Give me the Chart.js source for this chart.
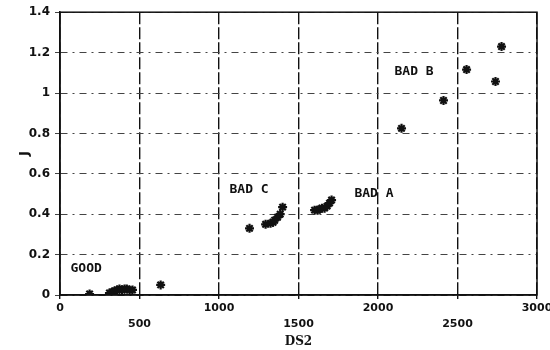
<!DOCTYPE html>
<html>
<head>
<meta charset="utf-8">
<script src="https://cdn.jsdelivr.net/npm/chart.js@4"></script>
<style>
  body { margin: 0; background: #fff; }
  canvas { display: block; }
</style>
</head>
<body>
<canvas id="chart" width="550" height="350"></canvas>
<script>
// Group GOOD
const goodDs2 = [186, 311, 330, 343, 360, 374, 390, 406, 420, 437, 456, 633];
const goodJ = [0.005, 0.01, 0.015, 0.02, 0.025, 0.03, 0.025, 0.03, 0.03, 0.025, 0.025, 0.05];

// Group BAD C
const badCDs2 = [1192, 1293, 1324, 1340, 1350, 1368, 1385, 1400];
const badCJ = [0.33, 0.35, 0.355, 0.36, 0.37, 0.385, 0.4, 0.435];

// Group BAD A
const badADs2 = [1601, 1620, 1632, 1648, 1664, 1680, 1695, 1708];
const badAJ = [0.42, 0.42, 0.425, 0.43, 0.43, 0.44, 0.455, 0.47];

// Group BAD B
const badBDs2 = [2148, 2412, 2557, 2739, 2777];
const badBJ = [0.825, 0.963, 1.116, 1.057, 1.23];

// Text labels written on the plot (data coordinates of their left edge)
const groupNames = ["GOOD", "BAD C", "BAD A", "BAD B"];
const groupNameDs2 = [66, 1066, 1852, 2104];
const groupNameJ = [0.133, 0.52, 0.5, 1.106];

// Axis ticks; the x labels alternate between two rows
const xTicksTop = [0, 1000, 2000, 3000];
const xTicksLow = [500, 1500, 2500];

function toPoints(xs, ys) {
  return xs.map((x, i) => ({ x: x, y: ys[i] }));
}

function makeSet(label, xs, ys) {
  return {
    label: label,
    data: toPoints(xs, ys),
    pointStyle: "star",
    pointRadius: 4.5,
    pointBorderWidth: 2.2,
    borderColor: "#111",
    backgroundColor: "#111",
    showLine: false,
  };
}

// Draws the staggered x labels, the group names and the closed frame
const plotExtras = {
  id: "plotExtras",
  afterDatasetsDraw(chart) {
    const ctx = chart.ctx;
    const { x, y } = chart.scales;
    const area = chart.chartArea;
    ctx.save();
    ctx.strokeStyle = "#111";
    ctx.lineWidth = 1.5;
    ctx.strokeRect(area.left, area.top, area.right - area.left, area.bottom - area.top);

    ctx.fillStyle = "#111";
    ctx.textAlign = "center";
    ctx.textBaseline = "middle";
    ctx.font = "bold 11px 'DejaVu Sans'";
    xTicksTop.forEach((v) => ctx.fillText(String(v), x.getPixelForValue(v), area.bottom + 13));
    xTicksLow.forEach((v) => ctx.fillText(String(v), x.getPixelForValue(v), area.bottom + 29));

    ctx.font = "bold 13px 'DejaVu Sans Mono'";
    ctx.textAlign = "left";
    groupNames.forEach((name, i) => {
      ctx.fillText(name, x.getPixelForValue(groupNameDs2[i]), y.getPixelForValue(groupNameJ[i]));
    });
    ctx.restore();
  },
};

new Chart(document.getElementById("chart").getContext("2d"), {
  type: "scatter",
  data: {
    datasets: [
      makeSet("GOOD", goodDs2, goodJ),
      makeSet("BAD C", badCDs2, badCJ),
      makeSet("BAD A", badADs2, badAJ),
      makeSet("BAD B", badBDs2, badBJ),
    ],
  },
  options: {
    responsive: false,
    animation: false,
    layout: { padding: { top: 12, right: 13, left: 0, bottom: 0 } },
    plugins: {
      legend: { display: false },
      tooltip: { enabled: false },
    },
    scales: {
      x: {
        min: 0,
        max: 3000,
        afterFit(scale) {
          scale.height = 55;
        },
        ticks: { stepSize: 500, display: false },
        grid: { color: "#111", lineWidth: 1.4, tickLength: 4 },
        border: { color: "#111", width: 1.5, dash: [12, 3] },
        title: {
          display: true,
          text: "DS2",
          color: "#111",
          font: { family: "DejaVu Serif", size: 12, weight: "bold" },
          padding: { top: 0, bottom: 1 },
        },
      },
      y: {
        min: 0,
        max: 1.4,
        afterFit(scale) {
          scale.width = 60;
        },
        ticks: {
          stepSize: 0.2,
          padding: 5,
          color: "#111",
          font: { family: "DejaVu Sans", size: 12, weight: "bold" },
          callback: (value) => String(Number(value.toFixed(1))),
        },
        grid: { color: "#444", lineWidth: 1, tickLength: 5 },
        border: { color: "#111", width: 1.5, dash: [7, 5, 2, 5] },
        title: {
          display: true,
          text: "J",
          color: "#111",
          font: { family: "DejaVu Sans", size: 13, weight: "bold" },
          padding: { top: 17, bottom: 0 },
        },
      },
    },
  },
  plugins: [plotExtras],
});
</script>
</body>
</html>
